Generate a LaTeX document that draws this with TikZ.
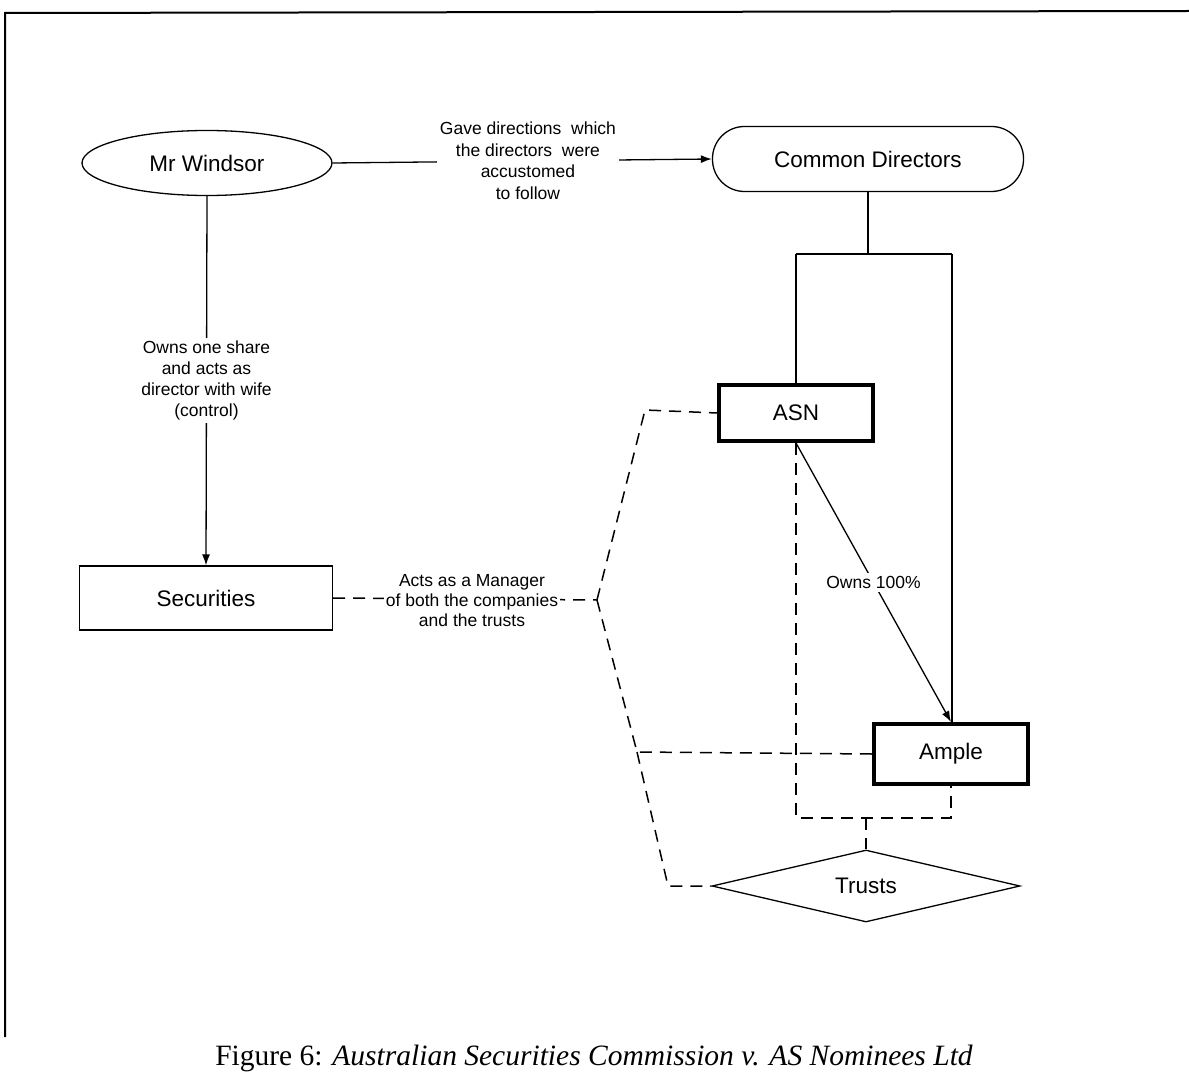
\documentclass[tikz,border=0pt]{standalone}
\usepackage{fontspec}
\setmainfont{Liberation Sans}
\newfontfamily\capfont{Liberation Serif}
\usetikzlibrary{arrows.meta,shapes.geometric}
\begin{document}
\begin{tikzpicture}[x=1pt,y=-1pt,
  ln/.style={line width=1.3pt},
  dsh/.style={line width=1.5pt, dash pattern=on 12pt off 8pt},
  thick box/.style={draw, line width=4pt, inner sep=0pt},
  boxtxt/.style={font=\fontsize{22.5}{26}\selectfont},
  lbl/.style={font=\fontsize{17.5}{21}\selectfont, align=center},
  arr/.style={-{Latex[length=11pt,width=8pt]}}
]
\useasboundingbox (0,0) rectangle (1189,1075);
% frame
\draw[line width=2pt] (5,1037) -- (5,13) -- (1189,11);

% nodes
\node[draw, ellipse, ln, minimum width=250pt, minimum height=65pt, inner sep=0pt, boxtxt] (mw) at (207,163) {Mr Windsor};
\node[draw, ln, rounded corners=32pt, minimum width=311pt, minimum height=65pt, inner sep=0pt, boxtxt] (cd) at (868,159) {Common Directors};
\node[thick box, minimum width=154pt, minimum height=56pt, boxtxt] (asn) at (796,413) {ASN};
\node[thick box, minimum width=154pt, minimum height=60pt, boxtxt] (ample) at (951,754) {Ample};
\node[draw, ln, minimum width=253pt, minimum height=64pt, inner sep=0pt, boxtxt] (sec) at (206,598) {Securities};
\node[draw, ln, diamond, aspect=4.3, minimum width=308pt, minimum height=72pt, inner sep=0pt, boxtxt] (tr) at (866,886) {Trusts};

% solid connectors
\draw[ln, arr] (mw.east) -- node[pos=0.515, lbl, fill=white, inner sep=3pt, font=\fontsize{17.5}{21.5}\selectfont] {Gave directions\ \ which\\the directors\ \ were\\accustomed\\to follow} (cd.west);
\draw[ln, arr] (mw.south) -- node[lbl, fill=white, inner sep=3pt] {Owns one share\\and acts as\\director with wife\\(control)} (sec.north);

\coordinate (cdj) at (868,254);
\coordinate (cdl) at (796,254);
\coordinate (cdr) at (952,254);
\draw[ln] (cd.south) -- (cdj);
\draw[ln] (cdl) -- (cdr);
\draw[ln] (cdl) -- (asn.north);
\draw[ln] (cdr) -- (cdr |- ample.north);
\draw[ln, arr] (asn.south) -- node[lbl, fill=white, inner sep=3pt] {Owns 100\%} (ample.north);

% dashed connectors
\coordinate (j) at (597,600);
\coordinate (ja) at (645,410);
\coordinate (jb) at (637,752);
\coordinate (jc) at (668,886);
\draw[dsh] (sec.east) -- (j);
\node[lbl, anchor=base, fill=white, inner sep=2pt] (mgr) at (472,606) {of both the companies};
\node[lbl, anchor=base] (mgr1) at (472,586) {Acts as a Manager};
\node[lbl, anchor=base] (mgr3) at (472,626) {and the trusts};
\draw[dsh] (j) -- (ja) -- (asn.west);
\draw[dsh] (j) -- (jb) -- (ample.west);
\draw[dsh] (jb) -- (jc) -- (tr.west);

\coordinate (tj) at (866,818);
\draw[dsh] (asn.south) |- (tj) -| (ample.south);
\draw[dsh] (tj) -- (tr.north);

% caption
\node[font=\capfont\fontsize{29.5}{34}\selectfont] (cap) at (594,1058) {Figure 6: \textit{Australian Securities Commission v. AS Nominees Ltd}};
\end{tikzpicture}
\end{document}
